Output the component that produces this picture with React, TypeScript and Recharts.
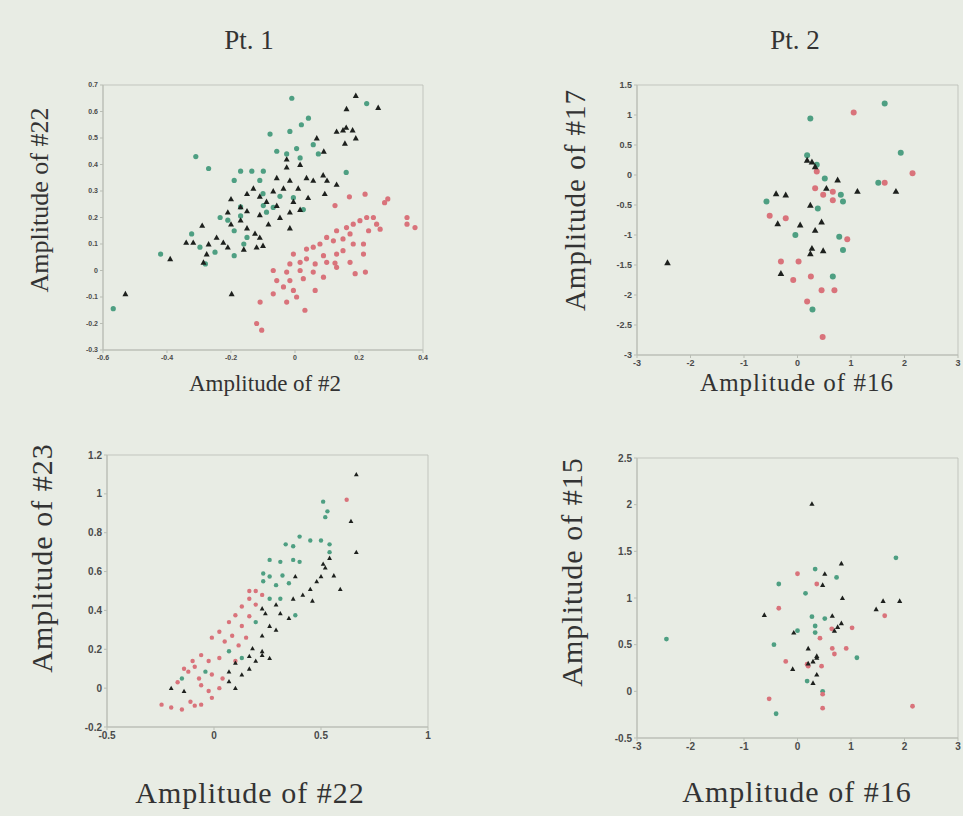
import React from 'react';
import { ScatterChart, Scatter, XAxis, YAxis, ReferenceArea } from 'recharts';

type Pt = [number, number];

// Pt. 1, #2 vs #22
const p1Green: Pt[] = [
  [-0.01, 0.65], [0.224, 0.63], [0.042, 0.575], [0.02, 0.55], [-0.078, 0.515], [-0.016, 0.525],
  [0.057, 0.475], [0.005, 0.46], [-0.026, 0.44], [-0.057, 0.45], [0.016, 0.425], [0.073, 0.44],
  [-0.31, 0.43], [-0.27, 0.385], [-0.17, 0.375], [-0.135, 0.375], [-0.099, 0.375], [-0.19, 0.34],
  [-0.11, 0.34], [0.16, 0.37], [-0.047, 0.28], [-0.099, 0.245], [-0.17, 0.24], [-0.089, 0.22],
  [-0.234, 0.2], [-0.21, 0.19], [-0.005, 0.275], [-0.19, 0.15], [-0.15, 0.125], [-0.16, 0.1],
  [-0.323, 0.138], [-0.297, 0.088], [-0.25, 0.069], [-0.42, 0.062], [-0.19, 0.056], [-0.28, 0.025],
  [-0.568, -0.144], [0.026, 0.23], [-0.068, 0.238], [-0.1, 0.29], [-0.17, 0.206],
];
const p1Black: Pt[] = [
  [0.19, 0.66], [0.161, 0.61], [0.26, 0.615], [0.13, 0.525], [0.15, 0.53], [0.18, 0.53],
  [0.16, 0.54], [0.19, 0.5], [0.156, 0.48], [0.068, 0.5], [0.09, 0.45], [-0.026, 0.42],
  [0.016, 0.4], [-0.026, 0.39], [-0.057, 0.35], [-0.016, 0.34], [0.036, 0.35], [0.057, 0.34],
  [0.088, 0.36], [0.1, 0.34], [0.13, 0.325], [0.01, 0.31], [-0.036, 0.31], [-0.13, 0.31],
  [-0.15, 0.29], [-0.089, 0.26], [-0.057, 0.245], [-0.005, 0.26], [0.041, 0.275], [0.093, 0.29],
  [0.016, 0.23], [-0.016, 0.22], [-0.047, 0.2], [-0.016, 0.16], [-0.083, 0.175], [-0.11, 0.21],
  [-0.15, 0.225], [-0.17, 0.24], [-0.2, 0.27], [-0.21, 0.22], [-0.17, 0.19], [-0.2, 0.175],
  [-0.29, 0.17], [-0.245, 0.125], [-0.27, 0.1], [-0.318, 0.106], [-0.34, 0.106], [-0.224, 0.106],
  [-0.21, 0.088], [-0.16, 0.08], [-0.12, 0.088], [-0.1, 0.094], [-0.125, 0.14], [-0.11, 0.125],
  [-0.276, 0.062], [-0.286, 0.031], [-0.39, 0.044], [-0.53, -0.088], [-0.198, -0.088],
  [-0.11, 0.28], [-0.068, 0.3], [-0.15, 0.16],
];
const p1Red: Pt[] = [
  [0.17, 0.278], [0.219, 0.288], [0.28, 0.256], [0.29, 0.27], [0.125, 0.245], [0.35, 0.2],
  [0.35, 0.175], [0.375, 0.162], [0.245, 0.2], [0.224, 0.2], [0.203, 0.188], [0.182, 0.175],
  [0.255, 0.175], [0.266, 0.156], [0.23, 0.15], [0.161, 0.162], [0.13, 0.15], [0.172, 0.138],
  [0.15, 0.119], [0.12, 0.112], [0.099, 0.125], [0.078, 0.1], [0.057, 0.088], [0.036, 0.081],
  [0.182, 0.1], [0.214, 0.1], [0.13, 0.062], [0.089, 0.056], [-0.005, 0.062], [0.036, 0.044],
  [0.016, 0.031], [-0.016, 0.025], [0.063, 0.025], [0.099, 0.031], [0.214, 0.062], [0.172, 0.031],
  [-0.068, 0], [-0.026, -0.006], [0.016, 0], [0.057, -0.006], [0.13, 0.012], [0.188, -0.012],
  [0.22, -0.006], [-0.057, -0.038], [-0.016, -0.038], [0.026, -0.031], [0.089, -0.025],
  [-0.036, -0.062], [-0.005, -0.075], [-0.068, -0.088], [0.005, -0.1], [0.063, -0.075],
  [-0.026, -0.119], [-0.109, -0.119], [0.031, -0.15], [-0.12, -0.2], [-0.104, -0.225],
  [0.125, 0.028], [0.15, 0.075],
];

// Pt. 2, #16 vs #17
const p2Green: Pt[] = [
  [1.63, 1.19], [0.24, 0.94], [1.93, 0.37], [0.18, 0.33], [0.36, 0.17], [0.51, -0.06],
  [0.81, -0.33], [0.85, -0.44], [-0.58, -0.44], [0.38, -0.56], [-0.04, -1.0], [0.78, -1.03],
  [0.85, -1.25], [0.66, -1.69], [0.28, -2.24], [1.51, -0.13],
];
const p2Black: Pt[] = [
  [0.18, 0.25], [0.27, 0.22], [0.33, 0.14], [0.75, -0.08], [1.12, -0.27], [1.84, -0.27],
  [0.54, -0.22], [-0.4, -0.31], [-0.22, -0.33], [0.24, -0.5], [-0.37, -0.81], [0.05, -0.83],
  [0.45, -0.78], [0.33, -0.92], [0.48, -1.26], [0.24, -1.31], [0.27, -1.22], [-0.31, -1.64],
  [-2.43, -1.46],
];
const p2Red: Pt[] = [
  [1.05, 1.04], [0.36, 0.06], [2.15, 0.03], [1.63, -0.13], [0.33, -0.22], [0.48, -0.33],
  [0.66, -0.28], [0.66, -0.42], [-0.52, -0.68], [-0.22, -0.72], [0.93, -1.07], [-0.31, -1.44],
  [0.02, -1.44], [-0.08, -1.75], [0.25, -1.69], [0.45, -1.92], [0.69, -1.92], [0.18, -2.11],
  [0.47, -2.7],
];

// Pt. 1, #22 vs #23
const p3Green: Pt[] = [
  [0.51, 0.96], [0.53, 0.91], [0.52, 0.88], [0.4, 0.78], [0.335, 0.74], [0.37, 0.73],
  [0.45, 0.76], [0.5, 0.76], [0.54, 0.74], [0.54, 0.7], [0.26, 0.66], [0.31, 0.65],
  [0.37, 0.66], [0.4, 0.65], [0.23, 0.59], [0.26, 0.575], [0.32, 0.58], [0.23, 0.55],
  [0.29, 0.53], [0.35, 0.54], [0.26, 0.46], [0.31, 0.46], [0.38, 0.375], [0.195, 0.34],
  [-0.04, 0.085], [-0.15, 0.05], [0.07, 0.19], [0.13, 0.155],
];
const p3Black: Pt[] = [
  [0.665, 1.1], [0.64, 0.86], [0.665, 0.7], [0.51, 0.64], [0.54, 0.67], [0.52, 0.62],
  [0.56, 0.58], [0.5, 0.575], [0.59, 0.51], [0.48, 0.55], [0.38, 0.575], [0.45, 0.51],
  [0.415, 0.48], [0.37, 0.46], [0.46, 0.45], [0.29, 0.43], [0.225, 0.41], [0.24, 0.385],
  [0.31, 0.385], [0.35, 0.36], [0.26, 0.32], [0.29, 0.3], [0.225, 0.27], [0.18, 0.205],
  [0.225, 0.17], [0.165, 0.165], [-0.14, -0.015], [0.07, 0.085], [0.07, 0.035], [0.1, 0],
  [0.13, 0.07], [0.165, 0.1], [0.195, 0.14], [0.225, 0.19], [0.26, 0.155], [0.1, 0.13],
  [-0.2, 0],
];
const p3Red: Pt[] = [
  [0.62, 0.97], [0.165, 0.5], [0.195, 0.5], [0.225, 0.48], [0.165, 0.46], [0.13, 0.42],
  [0.195, 0.43], [0.165, 0.37], [0.1, 0.375], [0.07, 0.34], [0.13, 0.32], [0.025, 0.29],
  [0.085, 0.27], [0.15, 0.26], [-0.01, 0.26], [0.05, 0.24], [0.115, 0.22], [0.1, 0.14],
  [-0.245, -0.085], [-0.2, -0.1], [-0.15, -0.11], [-0.11, -0.07], [-0.09, -0.09], [-0.06, -0.085],
  [-0.12, 0.085], [-0.09, 0.11], [-0.07, 0.05], [-0.06, 0.015], [-0.025, -0.015], [-0.01, -0.05],
  [0.025, 0], [0.04, 0.05], [-0.01, 0.07], [0.025, 0.155], [-0.025, 0.14], [-0.06, 0.17],
  [-0.1, 0.14], [-0.14, 0.1], [-0.17, 0.03],
];

// Pt. 2, #16 vs #15
const p4Green: Pt[] = [
  [1.84, 1.43], [0.33, 1.31], [0.73, 1.22], [-0.35, 1.15], [0.15, 1.05], [0.27, 0.8],
  [0.51, 0.78], [0.33, 0.7], [0.0, 0.65], [0.33, 0.63], [-2.45, 0.56], [-0.44, 0.5],
  [1.11, 0.36], [0.18, 0.11], [0.47, 0.0], [-0.4, -0.24],
];
const p4Black: Pt[] = [
  [0.27, 2.01], [0.82, 1.37], [0.51, 1.26], [0.47, 1.14], [0.84, 1.0], [1.6, 0.97],
  [1.91, 0.97], [1.47, 0.88], [-0.62, 0.82], [0.65, 0.81], [0.82, 0.73], [0.75, 0.69],
  [-0.07, 0.63], [0.69, 0.65], [0.2, 0.46], [0.36, 0.36], [0.29, 0.32], [-0.09, 0.24],
  [0.36, 0.18], [0.29, 0.09], [0.36, 0.38], [0.2, 0.3],
];
const p4Red: Pt[] = [
  [0.0, 1.26], [0.36, 1.15], [1.63, 0.81], [-0.35, 0.89], [0.64, 0.67], [1.02, 0.68],
  [0.42, 0.57], [0.65, 0.46], [0.91, 0.46], [0.69, 0.4], [-0.22, 0.32], [0.45, 0.27],
  [0.2, 0.27], [0.18, 0.29], [0.47, -0.03], [-0.53, -0.08], [0.47, -0.18], [2.15, -0.16],
];

const p1XTicks = [-0.6, -0.4, -0.2, 0, 0.2, 0.4];
const p1YTicks = [-0.3, -0.2, -0.1, 0, 0.1, 0.2, 0.3, 0.4, 0.5, 0.6, 0.7];
const p2XTicks = [-3, -2, -1, 0, 1, 2, 3];
const p2YTicks = [-3, -2.5, -2, -1.5, -1, -0.5, 0, 0.5, 1, 1.5];
const p3XTicks = [-0.5, 0, 0.5, 1];
const p3YTicks = [-0.2, 0, 0.2, 0.4, 0.6, 0.8, 1, 1.2];
const p4XTicks = [-3, -2, -1, 0, 1, 2, 3];
const p4YTicks = [-0.5, 0, 0.5, 1, 1.5, 2, 2.5];

const BG = '#e8ece4';
const GREEN = '#4e9f82';
const BLACK = '#1d201d';
const RED = '#d9737b';
const FRAME = '#b9bdb4';
const SERIF = '"Liberation Serif", "DejaVu Serif", serif';

const toObj = (pts: Pt[]) => pts.map(([x, y]) => ({ x, y }));

const dot = (r: number, color: string) => (p: any) => (
  <circle cx={p.cx} cy={p.cy} r={r} fill={color} />
);
const tri = (s: number, color: string) => (p: any) => (
  <path
    d={`M${p.cx},${p.cy - s} L${p.cx + s},${p.cy + s * 0.8} L${p.cx - s},${p.cy + s * 0.8} Z`}
    fill={color}
  />
);

interface PanelProps {
  x: number;
  y: number;
  w: number;
  h: number;
  xTicks: number[];
  yTicks: number[];
  green: Pt[];
  black: Pt[];
  red: Pt[];
  font: number;
  r: number;
  tri: number;
}

const Panel = (p: PanelProps) => {
  const xd = [p.xTicks[0], p.xTicks[p.xTicks.length - 1]];
  const yd = [p.yTicks[0], p.yTicks[p.yTicks.length - 1]];
  const tick = { fill: '#4a4a4a', fontSize: p.font, fontWeight: 700, fontFamily: '"Liberation Sans", Arial, sans-serif' };
  return (
    <div style={{ position: 'absolute', left: p.x - 40, top: p.y - 10 }}>
      <ScatterChart width={p.w + 52} height={p.h + 40} margin={{ top: 10, right: 12, bottom: 0, left: 0 }}>
        <XAxis
          type="number"
          dataKey="x"
          domain={xd}
          ticks={p.xTicks}
          height={30}
          tick={tick}
          tickSize={3}
          stroke={FRAME}
          interval={0}
        />
        <YAxis
          type="number"
          dataKey="y"
          domain={yd}
          ticks={p.yTicks}
          width={40}
          tick={tick}
          tickSize={3}
          stroke={FRAME}
          interval={0}
        />
        <ReferenceArea x1={xd[0]} x2={xd[1]} y1={yd[0]} y2={yd[1]} fill="none" stroke={FRAME} strokeOpacity={0.8} />
        <Scatter data={toObj(p.green)} shape={dot(p.r, GREEN)} isAnimationActive={false} />
        <Scatter data={toObj(p.red)} shape={dot(p.r, RED)} isAnimationActive={false} />
        <Scatter data={toObj(p.black)} shape={tri(p.tri, BLACK)} isAnimationActive={false} />
      </ScatterChart>
    </div>
  );
};

const Txt = ({ x, y, size, rot, ls = 0, children }: { x: number; y: number; size: number; rot?: boolean; ls?: number; children: string }) => (
  <div
    style={{
      position: 'absolute',
      left: x,
      top: y,
      transform: `translate(-50%, -50%)${rot ? ' rotate(-90deg)' : ''}`,
      fontFamily: SERIF,
      fontSize: size,
      letterSpacing: ls,
      color: '#333',
      whiteSpace: 'nowrap',
      lineHeight: 1,
    }}
  >
    {children}
  </div>
);

export default function App() {
  return (
    <div style={{ position: 'absolute', left: 0, top: 0, width: 963, height: 816, background: BG, overflow: 'hidden' }}>
      <Txt x={249} y={40} size={27}>Pt. 1</Txt>
      <Txt x={795} y={40} size={27}>Pt. 2</Txt>

      <Panel x={103} y={85} w={320} h={265} xTicks={p1XTicks} yTicks={p1YTicks}
        green={p1Green} black={p1Black} red={p1Red} font={7} r={2.6} tri={3} />
      <Panel x={637} y={85} w={321} h={270} xTicks={p2XTicks} yTicks={p2YTicks}
        green={p2Green} black={p2Black} red={p2Red} font={9} r={3} tri={3.3} />
      <Panel x={107} y={455} w={321} h={272} xTicks={p3XTicks} yTicks={p3YTicks}
        green={p3Green} black={p3Black} red={p3Red} font={10} r={2.2} tri={2.4} />
      <Panel x={637} y={458} w={321} h={280} xTicks={p4XTicks} yTicks={p4YTicks}
        green={p4Green} black={p4Black} red={p4Red} font={10} r={2.4} tri={2.6} />

      <Txt x={265} y={383} size={23}>Amplitude of #2</Txt>
      <Txt x={40} y={200} size={26} rot>Amplitude of #22</Txt>
      <Txt x={797} y={382} size={25} ls={1}>Amplitude of #16</Txt>
      <Txt x={575} y={200} size={29} ls={1} rot>Amplitude of #17</Txt>
      <Txt x={250} y={793} size={30} ls={1}>Amplitude of #22</Txt>
      <Txt x={42} y={558} size={30} ls={1} rot>Amplitude of #23</Txt>
      <Txt x={797} y={792} size={30} ls={1}>Amplitude of #16</Txt>
      <Txt x={572} y={572} size={30} ls={1} rot>Amplitude of #15</Txt>
    </div>
  );
}
